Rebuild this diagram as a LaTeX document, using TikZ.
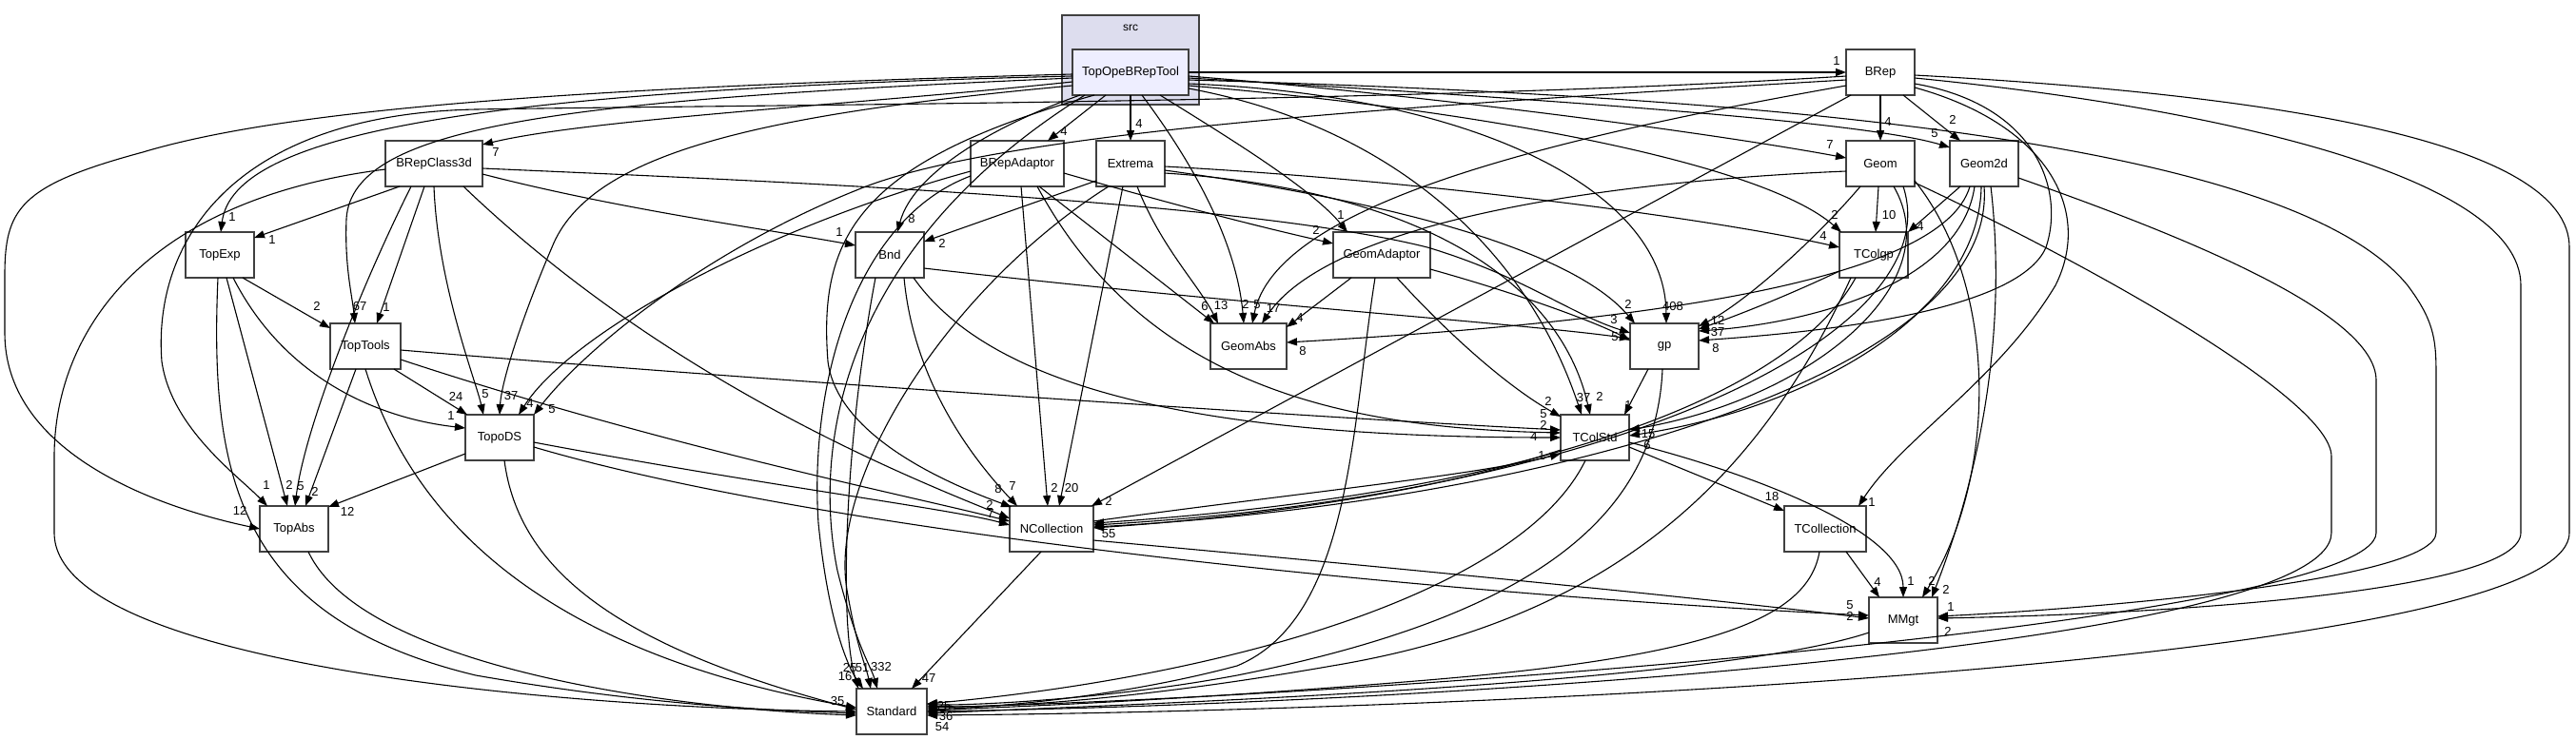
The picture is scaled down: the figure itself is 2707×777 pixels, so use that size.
\documentclass[tikz,border=0pt]{standalone}
\usepackage{fontspec}
\setmainfont{Liberation Sans}
\usetikzlibrary{arrows.meta}
\definecolor{bord}{HTML}{404040}
\definecolor{clfill}{HTML}{DDDDEE}
\definecolor{tfill}{HTML}{EEEEFF}
\begin{document}
\begin{tikzpicture}[x=1pt,y=-1pt,
  dirnode/.style={draw=bord, line width=1.6pt, fill=white, minimum height=48pt, inner sep=0pt, font=\fontsize{13}{15}\selectfont},
  dep/.style={draw=black, line width=1.1pt, -{Triangle[length=11pt,width=8pt]}},
  lab/.style={inner sep=0.5pt, font=\fontsize{13}{13}\selectfont}]
\useasboundingbox[fill=white] (0,0) rectangle (2707,777);
% cluster
\path[fill=clfill, draw=bord, line width=1.6pt] (1116,16) rectangle (1260,110);
\node[font=\fontsize{12}{14}\selectfont] (srclab) at (1188,29) {src};
% nodes
\node[dirnode, fill=tfill, minimum width=122pt] (T) at (1188,76) {TopOpeBRepTool};
\node[dirnode, minimum width=72pt] (BRep) at (1976,76) {BRep};
\node[dirnode, minimum width=102pt] (BC) at (456,172) {BRepClass3d};
\node[dirnode, minimum width=98pt] (BA) at (1069,172) {BRepAdaptor};
\node[dirnode, minimum width=72pt] (Ex) at (1188,172) {Extrema};
\node[dirnode, minimum width=72pt] (G) at (1976,172) {Geom};
\node[dirnode, minimum width=72pt] (G2) at (2085,172) {Geom2d};
\node[dirnode, minimum width=72pt] (TE) at (231,268) {TopExp};
\node[dirnode, minimum width=72pt] (Bnd) at (935,268) {Bnd};
\node[dirnode, minimum width=102pt] (GA) at (1452,268) {GeomAdaptor};
\node[dirnode, minimum width=72pt] (TCg) at (1969,268) {TColgp};
\node[dirnode, minimum width=74pt] (TT) at (384,364) {TopTools};
\node[dirnode, minimum width=80pt] (GAb) at (1312,364) {GeomAbs};
\node[dirnode, minimum width=72pt] (gp) at (1749,364) {gp};
\node[dirnode, minimum width=72pt] (TD) at (525,460) {TopoDS};
\node[dirnode, minimum width=72pt] (TCS) at (1676,460) {TColStd};
\node[dirnode, minimum width=72pt] (TA) at (309,556) {TopAbs};
\node[dirnode, minimum width=88pt] (NC) at (1105,556) {NCollection};
\node[dirnode, minimum width=86pt] (TCo) at (1918,556) {TCollection};
\node[dirnode, minimum width=72pt] (MM) at (2000,652) {MMgt};
\node[dirnode, minimum width=74pt] (St) at (937,748) {Standard};

% ---- edges from TopOpeBRepTool
\draw[dep] ([shift={(61,0)}]T.center) -- ([shift={(-36,0)}]BRep.center) node[lab] at (1930,64) {1};
\draw[dep] ([shift={(61,4)}]T.center) .. controls (1500,100) and (1800,140) .. ([shift={(-36,-6)}]G.center) node[lab] at (1923,152) {7};
\draw[dep] ([shift={(61,6)}]T.center) .. controls (1550,100) and (1950,125) .. ([shift={(-36,-17)}]G2.center) node[lab] at (2033,140) {5};
\draw[dep] ([shift={(-26,24)}]T.center) -- ([shift={(32,-24)}]BA.center) node[lab] at (1118,138) {4};
\draw[dep] ([shift={(0,24)}]T.center) -- ([shift={(0,-24)}]Ex.center) node[lab] at (1197,130) {4};
\draw[dep] ([shift={(-61,10)}]T.center) .. controls (900,110) and (620,125) .. ([shift={(51,-20)}]BC.center) node[lab] at (521,160) {7};
\draw[dep] ([shift={(-61,4)}]T.center) .. controls (500,95) and (245,140) .. ([shift={(1,-24)}]TE.center) node[lab] at (244,228) {1};
\draw[dep] ([shift={(-61,2)}]T.center) .. controls (600,92) and (300,115) .. (150,160) .. controls (20,195) and (5,220) .. (5,290) -- (5,350) .. controls (5,470) and (150,530) .. ([shift={(-36,0)}]TA.center) node[lab] at (252,537) {12};
\draw[dep] ([shift={(-61,6)}]T.center) .. controls (600,105) and (370,130) .. (364,230) .. controls (362,280) and (370,310) .. ([shift={(-11,-24)}]TT.center) node[lab] at (378,322) {67};
\draw[dep] ([shift={(-61,14)}]T.center) .. controls (800,120) and (620,160) .. (580,260) .. controls (550,330) and (527,400) .. ([shift={(0,-24)}]TD.center) node[lab] at (537,416) {37};
\draw[dep] ([shift={(-53,24)}]T.center) .. controls (1050,130) and (960,180) .. ([shift={(8,-24)}]Bnd.center) node[lab] at (958,230) {8};
\draw[dep] ([shift={(-38,24)}]T.center) .. controls (900,170) and (860,250) .. (870,380) .. controls (880,460) and (1000,510) .. ([shift={(-42,-23)}]NC.center) node[lab] at (1049,514) {8};
\draw[dep] ([shift={(12,24)}]T.center) .. controls (1260,180) and (1300,260) .. ([shift={(-5,-24)}]GAb.center) node[lab] at (1309,320) {2};
\draw[dep] ([shift={(31,24)}]T.center) .. controls (1300,150) and (1380,200) .. ([shift={(-36,-24)}]GA.center) node[lab] at (1409,226) {1};
\draw[dep] ([shift={(61,17)}]T.center) .. controls (1450,130) and (1600,250) .. ([shift={(-14,-24)}]TCS.center) node[lab] at (1664,418) {37};
\draw[dep] ([shift={(61,12)}]T.center) .. controls (1550,100) and (1750,200) .. ([shift={(2,-24)}]gp.center) node[lab] at (1758,322) {408};
\draw[dep] ([shift={(61,14)}]T.center) .. controls (1550,115) and (1850,170) .. ([shift={(-34,-24)}]TCg.center) node[lab] at (1928,226) {2};
\draw[dep] ([shift={(61,8)}]T.center) .. controls (1800,100) and (2400,140) .. (2530,300) .. controls (2560,340) and (2560,360) .. (2560,400) -- (2560,560) .. controls (2560,610) and (2200,640) .. ([shift={(36,-4)}]MM.center) node[lab] at (2050,638) {1};
\draw[dep] ([shift={(-48,24)}]T.center) .. controls (900,250) and (850,450) .. (880,600) .. controls (900,680) and (915,700) .. ([shift={(-15,-24)}]St.center) node[lab] at (926,701) {332};

% ---- BRep
\draw[dep] ([shift={(0,24)}]BRep.center) -- ([shift={(0,-24)}]G.center) node[lab] at (1984,128) {4};
\draw[dep] ([shift={(24,24)}]BRep.center) -- ([shift={(-25,-24)}]G2.center) node[lab] at (2052,126) {2};
\draw[dep] ([shift={(-36,4)}]BRep.center) .. controls (1500,108) and (800,110) .. (500,115) .. controls (250,120) and (160,250) .. (170,380) .. controls (180,450) and (250,500) .. ([shift={(-28,-24)}]TA.center) node[lab] at (280,510) {1};
\draw[dep] ([shift={(-36,8)}]BRep.center) .. controls (1500,110) and (1050,137) .. (900,200) .. controls (750,260) and (620,360) .. ([shift={(36,-24)}]TD.center) node[lab] at (580,430) {5};
\draw[dep] ([shift={(-36,14)}]BRep.center) .. controls (1600,150) and (1340,220) .. ([shift={(4,-24)}]GAb.center) node[lab] at (1321,320) {5};
\draw[dep] ([shift={(-31,24)}]BRep.center) -- ([shift={(42,-24)}]NC.center) node[lab] at (1165,527) {2};
\draw[dep] ([shift={(36,12)}]BRep.center) .. controls (2140,110) and (2170,200) .. (2150,260) .. controls (2120,330) and (1900,350) .. ([shift={(36,-6)}]gp.center) node[lab] at (1803,366) {8};
\draw[dep] ([shift={(36,16)}]BRep.center) .. controls (2150,130) and (2200,220) .. (2160,300) .. controls (2100,400) and (2000,460) .. ([shift={(35,-24)}]TCo.center) node[lab] at (1967,528) {1};
\draw[dep] ([shift={(36,6)}]BRep.center) .. controls (2300,110) and (2649,180) .. (2649,300) -- (2649,560) .. controls (2649,620) and (2300,645) .. ([shift={(36,-2)}]MM.center) node[lab] at (2047,664) {2};
\draw[dep] ([shift={(36,3)}]BRep.center) .. controls (2400,100) and (2700,150) .. (2700,260) -- (2700,560) .. controls (2700,700) and (1500,748) .. ([shift={(37,4)}]St.center) node[lab] at (990,764) {54};

% ---- BRepClass3d
\draw[dep] ([shift={(-36,24)}]BC.center) -- ([shift={(36,-18)}]TE.center) node[lab] at (286,252) {1};
\draw[dep] ([shift={(-10,24)}]BC.center) -- ([shift={(12,-24)}]TT.center) node[lab] at (406,323) {1};
\draw[dep] ([shift={(0,24)}]BC.center) .. controls (460,300) and (500,400) .. ([shift={(-17,-24)}]TD.center) node[lab] at (510,414) {5};
\draw[dep] ([shift={(-24,24)}]BC.center) .. controls (380,300) and (320,450) .. ([shift={(1,-24)}]TA.center) node[lab] at (316,511) {5};
\draw[dep] ([shift={(51,11)}]BC.center) .. controls (650,220) and (800,240) .. ([shift={(-36,-10)}]Bnd.center) node[lab] at (882,244) {1};
\draw[dep] ([shift={(31,24)}]BC.center) .. controls (700,400) and (950,500) .. ([shift={(-44,-11)}]NC.center) node[lab] at (1040,531) {2};
\draw[dep] ([shift={(-51,6)}]BC.center) .. controls (150,210) and (57,350) .. (57,480) -- (57,560) .. controls (57,700) and (600,745) .. ([shift={(-37,0)}]St.center) node[lab] at (880,737) {35};
\draw[dep] ([shift={(51,5)}]BC.center) .. controls (800,190) and (1300,210) .. (1500,260) .. controls (1600,290) and (1650,330) .. ([shift={(-36,-14)}]gp.center) node[lab] at (1696,336) {3};

% ---- BRepAdaptor
\draw[dep] ([shift={(49,10)}]BA.center) .. controls (1250,220) and (1330,240) .. ([shift={(-51,-12)}]GA.center) node[lab] at (1383,242) {2};
\draw[dep] ([shift={(23,24)}]BA.center) -- ([shift={(-36,-24)}]GAb.center) node[lab] at (1266,322) {6};
\draw[dep] ([shift={(4,24)}]BA.center) -- ([shift={(-4,-24)}]NC.center) node[lab] at (1108,513) {2};
\draw[dep] ([shift={(-49,8)}]BA.center) .. controls (800,240) and (600,350) .. ([shift={(20,-24)}]TD.center) node[lab] at (557,424) {4};
\draw[dep] ([shift={(-49,13)}]BA.center) .. controls (900,230) and (850,400) .. (860,550) .. controls (870,650) and (890,700) .. ([shift={(-30,-24)}]St.center) node[lab] at (893,702) {25};
\draw[dep] ([shift={(21,24)}]BA.center) .. controls (1200,400) and (1400,450) .. ([shift={(-36,-5)}]TCS.center) node[lab] at (1622,435) {5};

% ---- Extrema
\draw[dep] ([shift={(-36,18)}]Ex.center) -- ([shift={(36,-14)}]Bnd.center) node[lab] at (990,256) {2};
\draw[dep] ([shift={(7,24)}]Ex.center) .. controls (1220,260) and (1260,300) .. ([shift={(-32,-24)}]GAb.center) node[lab] at (1283,321) {13};
\draw[dep] ([shift={(-8,24)}]Ex.center) -- ([shift={(8,-24)}]NC.center) node[lab] at (1126,513) {20};
\draw[dep] ([shift={(36,3)}]Ex.center) .. controls (1500,190) and (1800,230) .. ([shift={(-36,-8)}]TCg.center) node[lab] at (1916,248) {4};
\draw[dep] ([shift={(36,10)}]Ex.center) .. controls (1500,200) and (1640,300) .. ([shift={(-5,-24)}]TCS.center) node[lab] at (1681,417) {2};
\draw[dep] ([shift={(36,7)}]Ex.center) .. controls (1450,210) and (1650,260) .. ([shift={(-31,-24)}]gp.center) node[lab] at (1711,320) {2};
\draw[dep] ([shift={(-23,24)}]Ex.center) .. controls (1000,300) and (870,500) .. (890,620) .. controls (900,680) and (910,700) .. ([shift={(-22,-24)}]St.center) node[lab] at (906,702) {51};

% ---- Geom
\draw[dep] ([shift={(-2,24)}]G.center) -- ([shift={(2,-24)}]TCg.center) node[lab] at (1985,226) {10};
\draw[dep] ([shift={(-21,24)}]G.center) .. controls (1900,260) and (1830,320) .. ([shift={(36,-21)}]gp.center) node[lab] at (1805,337) {12};
\draw[dep] ([shift={(-36,8)}]G.center) .. controls (1700,190) and (1400,230) .. ([shift={(14,-24)}]GAb.center) node[lab] at (1338,324) {17};
\draw[dep] ([shift={(14,24)}]G.center) .. controls (2050,300) and (1900,420) .. ([shift={(36,-8)}]TCS.center) node[lab] at (1732,456) {15};
\draw[dep] ([shift={(24,24)}]G.center) .. controls (2050,350) and (1700,520) .. ([shift={(44,-4)}]NC.center) node[lab] at (1165,561) {55};
\draw[dep] ([shift={(36,18)}]G.center) .. controls (2100,300) and (2100,500) .. ([shift={(20,-24)}]MM.center) node[lab] at (2030,611) {2};
\draw[dep] ([shift={(36,20)}]G.center) .. controls (2200,280) and (2450,420) .. (2450,480) -- (2450,560) .. controls (2450,680) and (1500,740) .. ([shift={(37,0)}]St.center) node[lab] at (992,742) {25};

% ---- Geom2d
\draw[dep] ([shift={(-25,24)}]G2.center) -- ([shift={(36,-24)}]TCg.center) node[lab] at (2018,238) {4};
\draw[dep] ([shift={(-10,24)}]G2.center) .. controls (2060,300) and (1900,340) .. ([shift={(36,-16)}]gp.center) node[lab] at (1805,349) {37};
\draw[dep] ([shift={(-15,24)}]G2.center) .. controls (2040,300) and (1700,340) .. ([shift={(40,-4)}]GAb.center) node[lab] at (1369,369) {8};
\draw[dep] ([shift={(-3,24)}]G2.center) .. controls (2080,330) and (1900,430) .. ([shift={(36,-2)}]TCS.center) node[lab] at (1731,468) {6};
\draw[dep] ([shift={(0,24)}]G2.center) .. controls (2100,400) and (1600,530) .. ([shift={(44,-2)}]NC.center);
\draw[dep] ([shift={(7,24)}]G2.center) .. controls (2110,350) and (2080,500) .. ([shift={(30,-24)}]MM.center) node[lab] at (2045,620) {2};
\draw[dep] ([shift={(36,15)}]G2.center) .. controls (2300,250) and (2497,330) .. (2497,400) -- (2497,560) .. controls (2497,650) and (1500,730) .. ([shift={(37,-4)}]St.center) node[lab] at (994,753) {36};

% ---- TopExp
\draw[dep] ([shift={(24,24)}]TE.center) -- ([shift={(-37,-19)}]TT.center) node[lab] at (333,322) {2};
\draw[dep] ([shift={(7,24)}]TE.center) -- ([shift={(-7,-24)}]TA.center) node[lab] at (304,510) {2};
\draw[dep] ([shift={(14,24)}]TE.center) .. controls (300,400) and (400,440) .. ([shift={(-36,-10)}]TD.center) node[lab] at (474,437) {1};
\draw[dep] ([shift={(-2,24)}]TE.center) .. controls (220,500) and (250,650) .. (500,710) .. controls (700,745) and (850,748) .. ([shift={(-37,2)}]St.center);

% ---- Bnd
\draw[dep] ([shift={(36,14)}]Bnd.center) .. controls (1300,320) and (1600,340) .. ([shift={(-36,-8)}]gp.center) node[lab] at (1697,354) {5};
\draw[dep] ([shift={(15,24)}]Bnd.center) .. controls (960,400) and (1020,480) .. ([shift={(-36,-24)}]NC.center) node[lab] at (1064,511) {7};
\draw[dep] ([shift={(25,24)}]Bnd.center) .. controls (1050,420) and (1300,460) .. ([shift={(-36,0)}]TCS.center) node[lab] at (1622,447) {2};
\draw[dep] ([shift={(-15,24)}]Bnd.center) .. controls (890,450) and (880,650) .. ([shift={(-35,-24)}]St.center) node[lab] at (888,711) {16};

% ---- GeomAdaptor
\draw[dep] ([shift={(-32,24)}]GA.center) -- ([shift={(40,-20)}]GAb.center) node[lab] at (1366,334) {4};
\draw[dep] ([shift={(51,15)}]GA.center) .. controls (1600,310) and (1680,340) .. ([shift={(-36,-6)}]gp.center);
\draw[dep] ([shift={(16,24)}]GA.center) .. controls (1530,360) and (1590,410) .. ([shift={(-36,-22)}]TCS.center) node[lab] at (1627,422) {2};
\draw[dep] ([shift={(-7,24)}]GA.center) .. controls (1420,450) and (1420,650) .. (1300,700) .. controls (1150,740) and (1000,745) .. ([shift={(37,-2)}]St.center);

% ---- TColgp
\draw[dep] ([shift={(-36,17)}]TCg.center) .. controls (1880,310) and (1830,330) .. ([shift={(36,-18)}]gp.center);
\draw[dep] ([shift={(-19,24)}]TCg.center) .. controls (1880,420) and (1600,520) .. ([shift={(44,-6)}]NC.center);
\draw[dep] ([shift={(-24,24)}]TCg.center) .. controls (1850,500) and (1700,650) .. (1400,700) .. controls (1200,735) and (1050,745) .. ([shift={(37,-6)}]St.center);

% ---- TopTools
\draw[dep] ([shift={(30,24)}]TT.center) -- ([shift={(-34,-24)}]TD.center) node[lab] at (479,417) {24};
\draw[dep] ([shift={(-10,24)}]TT.center) -- ([shift={(12,-24)}]TA.center) node[lab] at (331,517) {2};
\draw[dep] ([shift={(37,4)}]TT.center) .. controls (800,400) and (1400,440) .. ([shift={(-36,-8)}]TCS.center) node[lab] at (1612,459) {4};
\draw[dep] ([shift={(37,14)}]TT.center) .. controls (700,470) and (950,520) .. ([shift={(-44,-8)}]NC.center) node[lab] at (1041,540) {7};
\draw[dep] ([shift={(0,24)}]TT.center) .. controls (450,600) and (650,700) .. ([shift={(-37,-4)}]St.center);

% ---- gp
\draw[dep] ([shift={(-17,24)}]gp.center) -- ([shift={(31,-24)}]TCS.center) node[lab] at (1711,426) {1};
\draw[dep] ([shift={(-2,24)}]gp.center) .. controls (1740,550) and (1600,650) .. (1300,710) .. controls (1150,738) and (1000,742) .. ([shift={(37,-8)}]St.center);

% ---- TopoDS
\draw[dep] ([shift={(-36,17)}]TD.center) -- ([shift={(36,-23)}]TA.center) node[lab] at (365,538) {12};
\draw[dep] ([shift={(36,5)}]TD.center) .. controls (800,510) and (1000,535) .. ([shift={(-44,-4)}]NC.center);
\draw[dep] ([shift={(36,10)}]TD.center) .. controls (900,570) and (1600,630) .. ([shift={(-36,-5)}]MM.center) node[lab] at (1944,636) {5};
\draw[dep] ([shift={(5,24)}]TD.center) .. controls (545,600) and (650,680) .. ([shift={(-37,-2)}]St.center);

% ---- TColStd
\draw[dep] ([shift={(36,10)}]TCS.center) -- ([shift={(-43,-19)}]TCo.center) node[lab] at (1862,522) {18};
\draw[dep] ([shift={(36,5)}]TCS.center) .. controls (1850,500) and (2000,560) .. ([shift={(0,-24)}]MM.center) node[lab] at (2008,611) {1};
\draw[dep] ([shift={(-36,13)}]TCS.center) .. controls (1500,520) and (1300,545) .. ([shift={(44,-1)}]NC.center);
\draw[dep] ([shift={(-10,24)}]TCS.center) .. controls (1600,620) and (1300,710) .. ([shift={(37,-8)}]St.center);

% ---- NCollection
\draw[dep] ([shift={(44,-8)}]NC.center) .. controls (1350,520) and (1550,500) .. ([shift={(-36,17)}]TCS.center) node[lab] at (1620,479) {1};
\draw[dep] ([shift={(-11,24)}]NC.center) -- ([shift={(21,-24)}]St.center) node[lab] at (976,713) {47};
\draw[dep] ([shift={(44,12)}]NC.center) .. controls (1500,600) and (1800,630) .. ([shift={(-36,-2)}]MM.center) node[lab] at (1944,648) {2};

% ---- TCollection, MMgt, TopAbs
\draw[dep] ([shift={(22,24)}]TCo.center) -- ([shift={(-25,-24)}]MM.center) node[lab] at (1973,612) {4};
\draw[dep] ([shift={(-6,24)}]TCo.center) .. controls (1900,650) and (1800,690) .. (1500,715) .. controls (1200,740) and (1000,745) .. ([shift={(37,0)}]St.center);
\draw[dep] ([shift={(-36,13)}]MM.center) .. controls (1800,720) and (1200,740) .. ([shift={(37,2)}]St.center);
\draw[dep] ([shift={(15,24)}]TA.center) .. controls (380,700) and (700,745) .. ([shift={(-37,4)}]St.center);
\end{tikzpicture}
\end{document}
